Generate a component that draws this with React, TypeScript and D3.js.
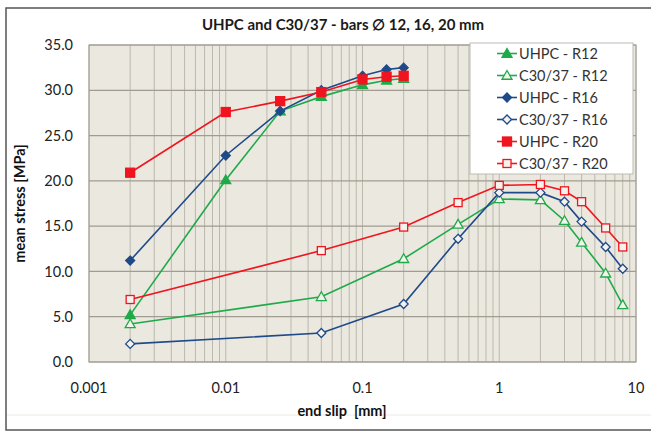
import * as d3 from "d3";

type Series = {
  name: string;
  color: string;
  marker: "triangle" | "diamond" | "square";
  filled: boolean;
  x: number[];
  y: number[];
};

const W = 651;
const H = 432;
const M = { left: 89, right: 636, top: 45, bottom: 362 };

const SLIP_UHPC = [0.002, 0.01, 0.025, 0.05, 0.1, 0.15, 0.2];
const SLIP_C30 = [0.002, 0.05, 0.2, 0.5, 1, 2, 3, 4, 6, 8];

const UHPC_R12 = [5.2, 20.1, 27.7, 29.3, 30.6, 31.1, 31.3];
const UHPC_R16 = [11.2, 22.8, 27.7, 30.0, 31.6, 32.3, 32.5];
const UHPC_R20 = [20.9, 27.6, 28.8, 29.8, 31.2, 31.5, 31.6];
const C30_R12 = [4.2, 7.2, 11.4, 15.2, 18.0, 17.9, 15.6, 13.2, 9.8, 6.3];
const C30_R16 = [2.0, 3.2, 6.4, 13.6, 18.7, 18.7, 17.7, 15.5, 12.7, 10.3];
const C30_R20 = [6.9, 12.3, 14.9, 17.6, 19.5, 19.6, 18.9, 17.7, 14.8, 12.7];

const Y_TICKS = [0, 5, 10, 15, 20, 25, 30, 35];
const X_TICKS = [0.001, 0.01, 0.1, 1, 10];

const GREEN = "#1faa4a";
const BLUE = "#1f4a8a";
const RED = "#f0141e";

const series: Series[] = [
  { name: "UHPC - R12", color: GREEN, marker: "triangle", filled: true, x: SLIP_UHPC, y: UHPC_R12 },
  { name: "C30/37 - R12", color: GREEN, marker: "triangle", filled: false, x: SLIP_C30, y: C30_R12 },
  { name: "UHPC - R16", color: BLUE, marker: "diamond", filled: true, x: SLIP_UHPC, y: UHPC_R16 },
  { name: "C30/37 - R16", color: BLUE, marker: "diamond", filled: false, x: SLIP_C30, y: C30_R16 },
  { name: "UHPC - R20", color: RED, marker: "square", filled: true, x: SLIP_UHPC, y: UHPC_R20 },
  { name: "C30/37 - R20", color: RED, marker: "square", filled: false, x: SLIP_C30, y: C30_R20 },
];

const FONT = "Lato, 'Open Sans', sans-serif";

const Marker = ({ s, cx, cy }: { s: Series; cx: number; cy: number }) => {
  const fill = s.filled ? s.color : "#f4f2ec";
  const sw = 1.3;
  if (s.marker === "triangle") {
    const r = 5;
    const p = `M${cx},${cy - r} L${cx + r},${cy + r * 0.75} L${cx - r},${cy + r * 0.75} Z`;
    return <path d={p} fill={fill} stroke={s.color} strokeWidth={sw} />;
  }
  if (s.marker === "diamond") {
    const r = 4.5;
    const p = `M${cx},${cy - r} L${cx + r},${cy} L${cx},${cy + r} L${cx - r},${cy} Z`;
    return <path d={p} fill={fill} stroke={s.color} strokeWidth={sw} />;
  }
  const r = s.filled ? 4.5 : 4;
  return <rect x={cx - r} y={cy - r} width={2 * r} height={2 * r} fill={fill} stroke={s.color} strokeWidth={sw} />;
};

export default function App() {
  const x = d3.scaleLog().domain([0.001, 10]).range([M.left, M.right]);
  const y = d3.scaleLinear().domain([0, 35]).range([M.bottom, M.top]);

  const minor: number[] = [];
  for (let e = -3; e < 1; e++) {
    for (let k = 1; k <= 9; k++) minor.push(k * Math.pow(10, e));
  }
  minor.push(10);

  const line = d3
    .line<[number, number]>()
    .x((d) => x(d[0]))
    .y((d) => y(d[1]));

  const legendX = 470;
  const legendY = 43;

  return (
    <svg width={W} height={H} style={{ position: "absolute", left: 0, top: 0 }} fontFamily={FONT}>
      <rect x={0} y={0} width={W} height={H} fill="#ffffff" />
      <rect x={6} y={8} width={W + 10} height={422} fill="#ffffff" stroke="#555" strokeWidth={1.5} />
      <line x1={7} x2={W} y1={415} y2={415} stroke="#eceae4" strokeWidth={1} />

      <text x={343} y={30} textAnchor="middle" fontSize={15} fontWeight="bold" fill="#1a1a1a">
        UHPC and C30/37 - bars ∅ 12, 16, 20 mm
      </text>

      <rect x={M.left} y={M.top} width={M.right - M.left} height={M.bottom - M.top} fill="#ebe8df" />
      {minor.map((v, i) => (
        <line key={"v" + i} x1={x(v)} x2={x(v)} y1={M.top} y2={M.bottom} stroke="#b6b2a8" strokeWidth={0.9} />
      ))}
      {Y_TICKS.map((t) => (
        <line key={"h" + t} x1={M.left} x2={M.right} y1={y(t)} y2={y(t)} stroke="#a09c92" strokeWidth={1.2} />
      ))}
      <rect x={M.left} y={M.top} width={M.right - M.left} height={M.bottom - M.top} fill="none" stroke="#a09c92" strokeWidth={1} />

      {Y_TICKS.map((t) => (
        <text key={"yl" + t} x={73} y={y(t)} dy="0.35em" textAnchor="end" fontSize={14.5} fill="#222">
          {d3.format(".1f")(t)}
        </text>
      ))}
      {X_TICKS.map((t) => (
        <text key={"xl" + t} x={x(t)} y={393} textAnchor="middle" fontSize={14.5} fill="#222">
          {String(t)}
        </text>
      ))}
      <text x={342} y={416} textAnchor="middle" fontSize={14.5} fontWeight="bold" fill="#111" style={{ whiteSpace: "pre" }}>
        {"end slip  [mm]"}
      </text>
      <text
        transform={`translate(25,${(M.top + M.bottom) / 2}) rotate(-90)`}
        textAnchor="middle"
        fontSize={14.5}
        fontWeight="bold"
        fill="#111"
      >
        mean stress [MPa]
      </text>

      {series.map((s) => {
        const pts = s.x.map((v, i) => [v, s.y[i]] as [number, number]);
        return (
          <g key={s.name}>
            <path d={line(pts) || ""} fill="none" stroke={s.color} strokeWidth={1.6} />
            {pts.map((p, i) => (
              <Marker key={i} s={s} cx={x(p[0])} cy={y(p[1])} />
            ))}
          </g>
        );
      })}

      <rect x={legendX} y={legendY} width={163} height={131} fill="#ffffff" stroke="#bdbab3" strokeWidth={1} />
      {series.map((s, i) => {
        const cy = legendY + 10.5 + i * 22;
        return (
          <g key={"lg" + s.name}>
            <line x1={497} x2={517} y1={cy} y2={cy} stroke={s.color} strokeWidth={1.6} />
            <Marker s={s} cx={507} cy={cy} />
            <text x={519} y={cy} dy="0.36em" fontSize={14.5} fill="#333">
              {s.name}
            </text>
          </g>
        );
      })}
    </svg>
  );
}
